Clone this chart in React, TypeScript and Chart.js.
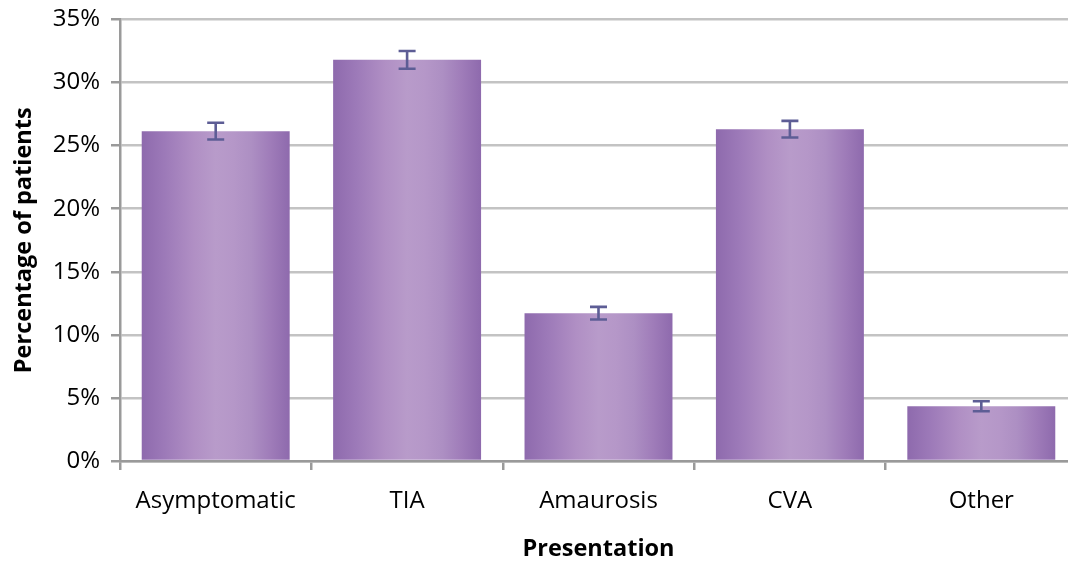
import React, { useEffect, useRef } from "react";
import { Chart, registerables } from "chart.js";

Chart.register(...registerables);

const categories = ["Asymptomatic", "TIA", "Amaurosis", "CVA", "Other"];
const percentages = [26.15, 31.8, 11.72, 26.3, 4.34];
const errors = [0.66, 0.7, 0.5, 0.66, 0.4];
const yTickStep = 5;
const yMax = 35;
const xTitle = "Presentation";
const yTitle = "Percentage of patients";

const FONT = "'Open Sans', 'Noto Sans', sans-serif";

const errorBarPlugin = {
  id: "errorBars",
  afterDatasetsDraw(chart: any) {
    const meta = chart.getDatasetMeta(0);
    const y = chart.scales.y;
    const ctx = chart.ctx;
    ctx.save();
    ctx.strokeStyle = "#5d5d95";
    ctx.lineWidth = 2.6;
    meta.data.forEach((bar: any, i: number) => {
      const v = percentages[i];
      const e = errors[i];
      const yTop = y.getPixelForValue(v + e);
      const yBot = y.getPixelForValue(v - e);
      const x = bar.x;
      const cap = 8.5;
      ctx.beginPath();
      ctx.moveTo(x, yTop);
      ctx.lineTo(x, yBot);
      ctx.moveTo(x - cap, yTop);
      ctx.lineTo(x + cap, yTop);
      ctx.moveTo(x - cap, yBot);
      ctx.lineTo(x + cap, yBot);
      ctx.stroke();
    });
    ctx.restore();
  },
};

const BAR_PCT = 0.773;

function barGradient(context: any) {
  const chart = context.chart;
  const xs = chart.scales && chart.scales.x;
  if (!xs || context.dataIndex === undefined) return "#a685bd";
  const center = xs.getPixelForValue(context.dataIndex);
  const catW = (xs.right - xs.left) / categories.length;
  const half = (catW * BAR_PCT) / 2;
  if (!isFinite(center) || !isFinite(half)) return "#a685bd";
  const g = chart.ctx.createLinearGradient(center - half, 0, center + half, 0);
  g.addColorStop(0, "#8e6aad");
  g.addColorStop(0.15, "#9c79b8");
  g.addColorStop(0.35, "#b08fc4");
  g.addColorStop(0.5, "#b89bca");
  g.addColorStop(0.62, "#b597c8");
  g.addColorStop(0.74, "#ad8fc3");
  g.addColorStop(0.87, "#9f7cb9");
  g.addColorStop(1, "#8e6aad");
  return g;
}

export default function App() {
  const canvasRef = useRef<HTMLCanvasElement>(null);

  useEffect(() => {
    document.body.style.margin = "0";
    const canvas = canvasRef.current;
    if (!canvas) return;
    const chart = new Chart(canvas, {
      type: "bar",
      data: {
        labels: categories,
        datasets: [
          {
            data: percentages,
            backgroundColor: barGradient as any,
            borderWidth: 0,
            barPercentage: BAR_PCT,
            categoryPercentage: 1,
          },
        ],
      },
      options: {
        animation: false,
        responsive: false,
        maintainAspectRatio: false,
        layout: { padding: { top: 19.5, right: 8, bottom: 0, left: 0 } },
        plugins: {
          legend: { display: false },
          tooltip: { enabled: false },
        },
        scales: {
          x: {
            grid: {
              drawOnChartArea: false,
              drawTicks: true,
              tickLength: 9,
              tickColor: "#9a9a9a",
              lineWidth: 2.5,
              offset: true,
            },
            border: { display: true, color: "#9a9a9a", width: 2.5 },
            ticks: {
              color: "#000",
              font: { family: FONT, size: 24 },
              padding: 17,
              maxRotation: 0,
            },
            title: {
              display: true,
              text: xTitle,
              color: "#000",
              font: { family: FONT, size: 23.5, weight: "bold" },
              padding: { top: 4, bottom: 0 },
            },
            afterFit(scale: any) {
              scale.height = 102;
            },
          },
          y: {
            min: 0,
            max: yMax,
            grid: {
              color: "#c3c3c3",
              lineWidth: 2.5,
              tickLength: 9,
              tickColor: "#9a9a9a",
              drawTicks: true,
            },
            border: { display: true, color: "#9a9a9a", width: 2.5 },
            ticks: {
              stepSize: yTickStep,
              color: "#000",
              font: { family: FONT, size: 24 },
              padding: 11,
              callback: (v: any) => `${v}%`,
            },
            title: {
              display: true,
              text: yTitle,
              color: "#000",
              font: { family: FONT, size: 23.5, weight: "bold" },
              padding: { top: 10, bottom: 0 },
            },
            afterFit(scale: any) {
              scale.width = 120;
              scale.paddingTop = 0;
              scale.paddingBottom = 0;
            },
          },
        },
      },
      plugins: [errorBarPlugin],
    });
    return () => chart.destroy();
  }, []);

  return (
    <div style={{ width: 1068, height: 563, overflow: "hidden", position: "relative" }}>
      <canvas ref={canvasRef} width={1085} height={563} style={{ display: "block", width: 1085, height: 563 }} />
    </div>
  );
}
